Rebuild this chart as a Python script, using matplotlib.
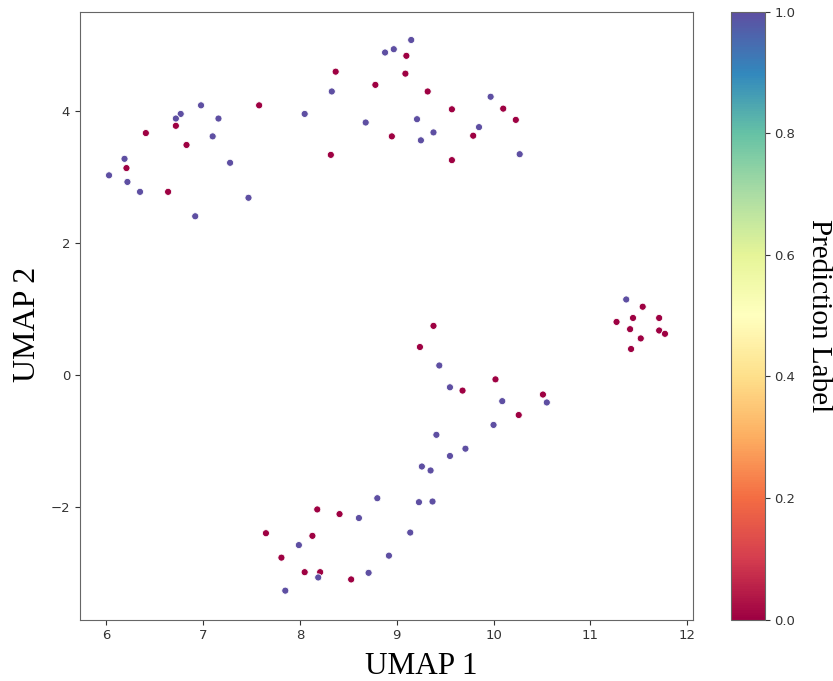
import matplotlib.pyplot as plt
from matplotlib import cm, colors

# UMAP embedding; label 1 = blue, 0 = red
umap1 = [
    6.98, 7.58, 6.77, 6.72, 7.16, 6.72, 6.41, 7.10, 6.83, 6.19, 7.28, 6.21,
    6.03, 6.22, 6.35, 6.64, 7.47, 6.92,
    9.15, 8.88, 8.97, 9.10, 8.37, 9.09, 8.78, 9.32, 8.33, 9.97, 9.57, 10.10,
    8.05, 10.23, 8.68, 9.21, 9.85, 9.38, 8.95, 9.79, 9.25, 8.32, 10.27, 9.57,
    9.38, 9.24, 9.44, 10.02, 9.55, 9.68, 10.51, 10.09, 10.55, 10.26, 10.00,
    9.41, 9.71, 9.55, 9.26, 9.35,
    8.80, 9.23, 9.37, 8.18, 8.41, 8.61, 7.65, 9.14, 8.13, 7.99, 7.81, 8.92,
    8.05, 8.21, 8.19, 8.71, 8.53, 7.85,
    11.37, 11.54, 11.44, 11.71, 11.27, 11.41, 11.71, 11.77, 11.52, 11.42,
]
umap2 = [
    4.08, 4.08, 3.95, 3.88, 3.88, 3.77, 3.66, 3.61, 3.48, 3.27, 3.21, 3.13,
    3.02, 2.92, 2.77, 2.77, 2.68, 2.40,
    5.07, 4.88, 4.93, 4.83, 4.59, 4.56, 4.39, 4.29, 4.29, 4.21, 4.02, 4.03,
    3.95, 3.86, 3.82, 3.87, 3.75, 3.67, 3.61, 3.62, 3.55, 3.33, 3.34, 3.25,
    0.74, 0.42, 0.14, -0.07, -0.19, -0.24, -0.30, -0.40, -0.42, -0.61, -0.76,
    -0.91, -1.12, -1.23, -1.39, -1.45,
    -1.87, -1.93, -1.92, -2.04, -2.11, -2.17, -2.40, -2.39, -2.44, -2.58, -2.77, -2.74,
    -2.99, -2.99, -3.07, -3.00, -3.10, -3.27,
    1.14, 1.03, 0.86, 0.86, 0.80, 0.69, 0.67, 0.62, 0.55, 0.39,
]
labels = [
    1, 0, 1, 1, 1, 0, 0, 1, 0, 1, 1, 0,
    1, 1, 1, 0, 1, 1,
    1, 1, 1, 0, 0, 0, 0, 0, 1, 1, 0, 0,
    1, 0, 1, 1, 1, 1, 0, 0, 1, 0, 1, 0,
    0, 0, 1, 0, 1, 0, 0, 1, 1, 0, 1,
    1, 1, 1, 1, 1,
    1, 1, 1, 0, 0, 1, 0, 1, 0, 1, 0, 1,
    0, 0, 1, 1, 0, 1,
    1, 0, 0, 0, 0, 0, 0, 0, 0, 0,
]

fig = plt.figure(figsize=(8.33, 6.81), dpi=100)
ax = fig.add_axes([0.096, 0.090, 0.736, 0.893])
cax = fig.add_axes([0.877, 0.090, 0.041, 0.893])

norm = colors.Normalize(vmin=0, vmax=1)
ax.scatter(umap1, umap2, c=labels, cmap="Spectral", norm=norm, s=26,
           edgecolors="white", linewidths=0.6)
ax.set_xlim(5.73, 12.06)
ax.set_ylim(-3.71, 5.5)
ax.set_xticks([6, 7, 8, 9, 10, 11, 12])
ax.set_yticks([-2, 0, 2, 4])
for spine in ax.spines.values():
    spine.set_color("#666666")
ax.tick_params(labelsize=9.5, colors="#333333")
ax.set_xlabel("UMAP 1", family="Liberation Serif", fontsize=22.5, x=0.556, labelpad=7)
ax.set_ylabel("UMAP 2", family="Liberation Serif", fontsize=23, y=0.485, labelpad=6)

cb = fig.colorbar(cm.ScalarMappable(norm=norm, cmap="Spectral"), cax=cax)
cb.set_ticks([0.0, 0.2, 0.4, 0.6, 0.8, 1.0])
cb.ax.tick_params(labelsize=9.5, colors="#333333")
cb.outline.set_edgecolor("#666666")
cb.set_label("Prediction Label", family="Liberation Serif", fontsize=21,
             rotation=270, labelpad=26)

fig.savefig("out.png", dpi=100)
